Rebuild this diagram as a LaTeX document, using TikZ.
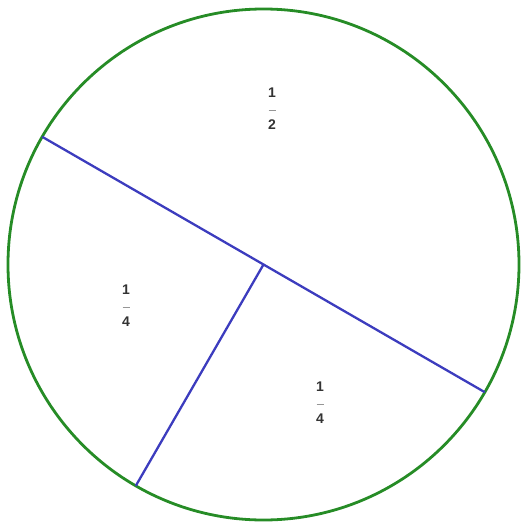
\documentclass[tikz,border=0pt]{standalone}
\usepackage{fontspec}
\setmainfont{Liberation Sans}
\definecolor{ringgreen}{RGB}{38,140,38}
\definecolor{cutblue}{RGB}{60,60,190}
\definecolor{fracgray}{RGB}{150,150,150}
\newcommand{\stackfrac}[2]{\begin{tabular}{@{}c@{}}#1\\[2pt]\textcolor{fracgray}{\rule[3pt]{7pt}{0.7pt}}\\[0pt]#2\end{tabular}}
\begin{document}
\begin{tikzpicture}[x=1pt,y=-1pt,
  ring/.style={draw=ringgreen,line width=2.8pt},
  cut/.style={draw=cutblue,line width=2.3pt},
  frlabel/.style={font=\fontsize{14}{15}\selectfont\bfseries,inner sep=0pt,text=black!80}]
\useasboundingbox (0,0) rectangle (521,527);
\coordinate (c) at (263.5,264.5);
\coordinate (dl) at (42.2,136.8);
\coordinate (dr) at (484.8,392.2);
\coordinate (rb) at (135.8,485.8);
\draw[ring] (c) circle[radius=255.5pt];
\draw[cut] (dl) -- (c) -- (dr);
\draw[cut] (c) -- (rb);
\node[frlabel] (half) at (272,110) {\stackfrac{1}{2}};
\node[frlabel] (qleft) at (126,307) {\stackfrac{1}{4}};
\node[frlabel] (qright) at (320,404) {\stackfrac{1}{4}};
\end{tikzpicture}
\end{document}
